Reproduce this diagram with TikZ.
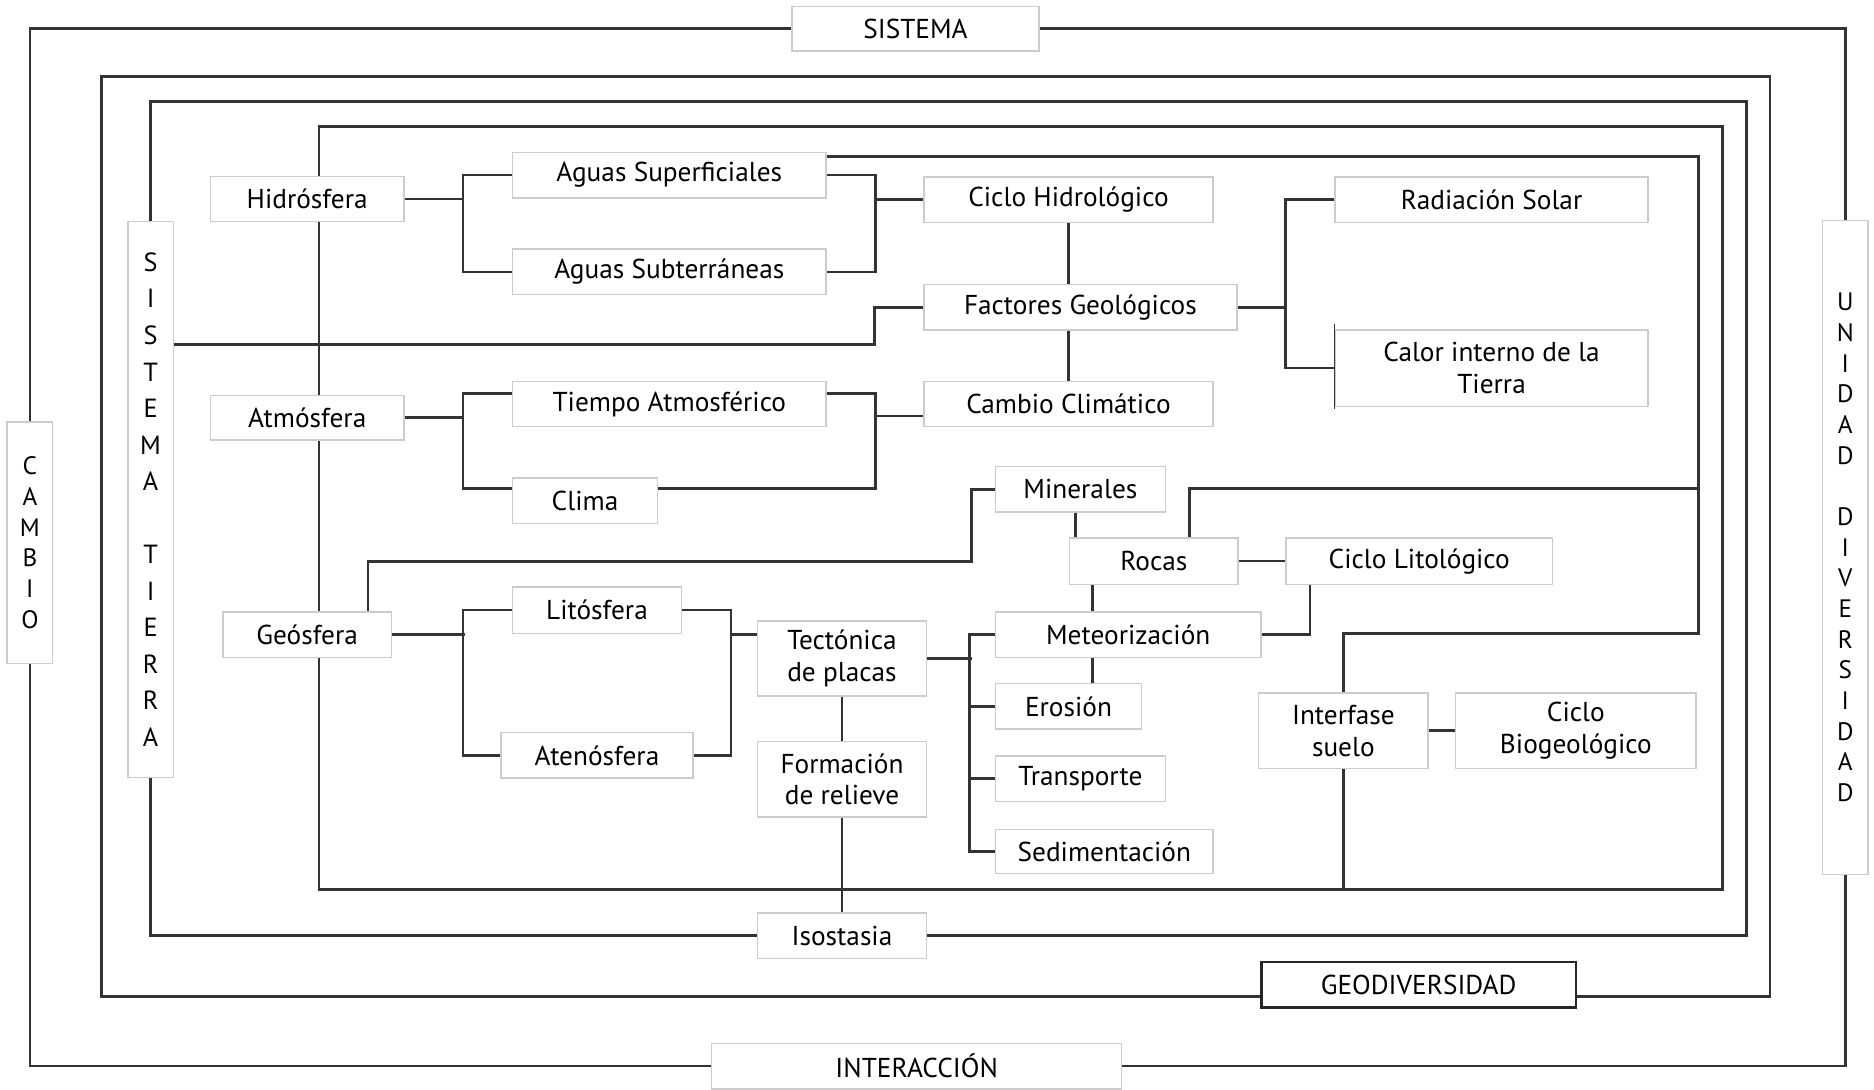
\documentclass[tikz,border=0pt]{standalone}
\usepackage{fontspec}
\setmainfont{PT Sans}
\usetikzlibrary{
    backgrounds
}

\begin{document}
\begin{tikzpicture}[
    x=0.2mm, y=-0.2mm,
    box/.style = {rectangle, draw=gray!40, fill=white, line width=0.7pt,
                  inner sep=0pt, align=center, text=black,
                  font=\fontsize{13}{15}\selectfont},
    dims/.style 2 args = {minimum width=#1*0.2mm, minimum height=#2*0.2mm},
    letters/.style = {font=\fontsize{12}{14.6}\selectfont},
    lettersB/.style = {font=\fontsize{12.5}{17.4}\selectfont},
    link/.style = {draw=black!80, line width=1.3pt},
    frame/.style = {draw=black!80, line width=1.3pt}
]

    \useasboundingbox (0,0) rectangle (1568,912);

    % frame labels
    \node[box, dims={207}{37}] (sistema) at (766,24) {SISTEMA};
    \node[box, dims={343}{38}] (interac) at (767,892) {INTERACCIÓN};
    \node[box, letters, dims={38}{202}] (cambio) at (25,454) {C\\A\\M\\B\\I\\O};
    \node[box, letters, dims={38}{547}] (unidad) at (1544,458)
        {U\\N\\I\\D\\A\\D\\[14.6pt]D\\I\\V\\E\\R\\S\\I\\D\\A\\D};
    \node[box, draw=black!85, line width=1pt, dims={263}{38}] (geodiv) at (1187,824) {GEODIVERSIDAD};
    \node[box, lettersB, dims={38}{465}] (stierra) at (126,418)
        {S\\I\\S\\T\\E\\M\\A\\[17.4pt]T\\I\\E\\R\\R\\A};
    \node[box, dims={141}{38}] (isost) at (704.5,783) {Isostasia};

    % hidrosfera
    \node[box, dims={162}{38}] (hidro) at (257,166.5) {Hidrósfera};
    \node[box, dims={262}{38}] (asup) at (560,146.5) {Aguas Superficiales};
    \node[box, dims={262}{38}] (asub) at (560,227.5) {Aguas Subterráneas};
    \node[box, dims={242}{38}] (chid) at (894,167) {Ciclo Hidrológico};
    \node[box, dims={262}{38}] (fact) at (904,257) {Factores Geológicos};
    \node[box, dims={262}{38}] (rad) at (1248,167) {Radiación Solar};
    \node[box, dims={262}{64}] (calor) at (1248,308) {Calor interno de la\\Tierra};

    % atmosfera
    \node[box, dims={162}{37}] (atmo) at (257,349.5) {Atmósfera};
    \node[box, dims={262}{38}] (tiem) at (560,338) {Tiempo Atmosférico};
    \node[box, dims={121}{38}] (clima) at (489.5,419) {Clima};
    \node[box, dims={242}{38}] (camc) at (894,338) {Cambio Climático};

    % geosfera
    \node[box, dims={142}{38}] (miner) at (904,409.5) {Minerales};
    \node[box, dims={141}{39}] (rocas) at (965.5,469.5) {Rocas};
    \node[box, dims={223}{39}] (clito) at (1187.5,469.5) {Ciclo Litológico};
    \node[box, dims={141}{38}] (geo) at (257,531) {Geósfera};
    \node[box, dims={141}{39}] (lito) at (499.5,510.5) {Litósfera};
    \node[box, dims={161}{38}] (aten) at (499.5,632) {Atenósfera};
    \node[box, dims={141}{63}] (tect) at (704.5,551) {Tectónica\\de placas};
    \node[box, dims={141}{63}] (form) at (704.5,652) {Formación\\de relieve};
    \node[box, dims={222}{38}] (meteo) at (944,531) {Meteorización};
    \node[box, dims={122}{38}] (eros) at (894,591) {Erosión};
    \node[box, dims={142}{38}] (transp) at (904,651.5) {Transporte};
    \node[box, dims={182}{37}] (sedim) at (924,712.5) {Sedimentación};
    \node[box, dims={142}{63}] (interf) at (1124,611.5) {Interfase\\suelo};
    \node[box, dims={201}{63}] (cbio) at (1318.5,611.5) {Ciclo\\Biogeológico};

    \begin{pgfonlayer}{background}
        \fill[white] (0,0) rectangle (1568,912);
        % outer frame
        \draw[frame] (sistema.west) -| (cambio.north);
        \draw[frame] (cambio.south) |- (interac.west);
        \draw[frame] (sistema.east) -| (unidad.north);
        \draw[frame] (unidad.south) |- (interac.east);
        % geodiversidad
        \draw[frame] (geodiv.west |- 0,834) -| (85,64) -| (1481,834) -- (geodiv.east |- 0,834);
        % sistema tierra
        \draw[frame] (stierra.north) |- (1461,85) |- (isost.east);
        \draw[frame] (stierra.south) |- (isost.west);
        % esferas
        \draw[frame] (267,106) rectangle (1441,744);
    \end{pgfonlayer}

    \draw[link] (asup.east |- 0,131) -| (1421,530) -| (interf.north);
    \draw[link] (1421,409) -| (995,0 |- rocas.north);
    \draw[link] (interf.south) -- (interf.south |- 0,744);

    \draw[link] (hidro.east) -- ++(50,0);
    \draw[link] (asup.west) -- ++(-41,0) |- (asub.west);
    \draw[link] (asup.east) -- ++(41,0) |- (asub.east);
    \draw[link] (chid.west) -- ++(-41,0);
    \draw[link] (chid.south) -- (chid.south |- fact.north);
    \draw[link] (chid.south |- fact.south) -- (camc.north);
    \draw[link] (fact.east) -- ++(41,0);
    \draw[link] (rad.west) -- ++(-41,0) |- (calor.west);
    \draw[black!80, line width=0.5pt] ([yshift=0.8mm]calor.north west) -- ([yshift=-0.4mm]calor.south west);
    \draw[link] (stierra.east |- 0,288) -- (732,288) |- (fact.west);

    \draw[link] (atmo.east) -- ++(50,0);
    \draw[link] (tiem.west |- 0,329) -- ++(-41,0) |- (clima.west |- 0,409);
    \draw[link] (tiem.east |- 0,329) -- ++(41,0) |- (clima.east |- 0,409);
    \draw[link] (camc.west |- 0,348) -- ++(-41,0);

    \draw[link] (308,0 |- geo.north) |- (813,470) |- (miner.west);
    \draw[link] (geo.east) -- ++(61,0);
    \draw[link] (lito.west) -- ++(-41,0) |- (aten.west);
    \draw[link] (lito.east) -- ++(41,0) |- (aten.east);
    \draw[link] (tect.west |- 0,531) -- ++(-23,0);
    \draw[link] (tect.east) -- ++(38,0);
    \draw[link] (meteo.west) -- ++(-21,0) |- (sedim.west);
    \draw[link] (eros.west) -- ++(-21,0);
    \draw[link] (transp.west) -- ++(-21,0);
    \draw[link] (tect.south) -- (form.north);
    \draw[link] (form.south) -- (isost.north);

    \draw[link] (900,0 |- miner.south) -- (900,0 |- rocas.north);
    \draw[link] (rocas.east) -- (clito.west);
    \draw[link] (914,0 |- rocas.south) -- (914,0 |- meteo.north);
    \draw[link] (1096,0 |- clito.south) |- (meteo.east);
    \draw[link] (914,0 |- meteo.south) -- (914,0 |- eros.north);
    \draw[link] (interf.east) -- (cbio.west);

\end{tikzpicture}
\end{document}
